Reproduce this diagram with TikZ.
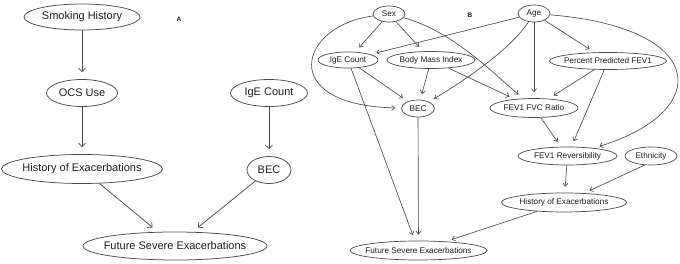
\documentclass[tikz,border=0pt]{standalone}
\usepackage{fontspec}
\setmainfont{Liberation Sans}
\usetikzlibrary{shapes.geometric,arrows.meta}
\definecolor{linec}{RGB}{75,75,75}
\definecolor{textc}{RGB}{30,30,30}
\begin{document}
\begin{tikzpicture}[x=1pt,y=-1pt,
 labA/.style={text=textc,font=\fontsize{11}{13}\selectfont,inner sep=0pt},
 labB/.style={text=textc,font=\fontsize{8.2}{10}\selectfont,inner sep=0pt},
 ellA/.style={ellipse,draw=linec,line width=0.75pt,inner sep=0pt,label={[labA]center:#1}},
 ellB/.style={ellipse,draw=linec,line width=0.7pt,inner sep=0pt,label={[labB]center:#1}},
 edgeA/.style={draw=linec,line width=0.75pt,-{Straight Barb[length=3.5pt,width=7pt]},shorten >=7pt},
 edgeB/.style={draw=linec,line width=0.65pt,-{Straight Barb[length=3pt,width=5pt]},shorten >=6pt},
 panel/.style={font=\fontsize{6.5}{8}\selectfont\bfseries,text=textc,inner sep=0pt}]
\useasboundingbox[fill=white] (0,0) rectangle (680,264);
% Panel A
\node[panel] (labelA) at (179,19) {A};
\node[ellA=Smoking History, minimum width=116, minimum height=26] (smoke) at (82,17) {};
\node[ellA=OCS Use, minimum width=71, minimum height=27] (ocs) at (82,93) {};
\node[ellA=IgE Count, minimum width=77, minimum height=27] (igeA) at (269,93) {};
\node[ellA=History of Exacerbations, minimum width=161, minimum height=29] (histA) at (82,169) {};
\node[ellA=BEC, minimum width=44, minimum height=27] (becA) at (269,170) {};
\node[ellA=Future Severe Exacerbations, minimum width=184, minimum height=28] (futA) at (175,246) {};
\draw[edgeA] (smoke) -- (ocs);
\draw[edgeA] (ocs) -- (histA);
\draw[edgeA] (igeA) -- (becA);
\draw[edgeA] (histA) -- (futA);
\draw[edgeA] (becA) -- (futA);
% Panel B
\node[panel] (labelB) at (470,15) {B};
\node[ellB=Sex, minimum width=32, minimum height=16] (sex) at (389,14) {};
\node[ellB=Age, minimum width=32, minimum height=17] (age) at (534,13.5) {};
\node[ellB=IgE Count, minimum width=60, minimum height=16] (igeB) at (348,60) {};
\node[ellB=Body Mass Index, minimum width=88, minimum height=17] (bmi) at (431,60) {};
\node[ellB=Percent Predicted FEV1, minimum width=117, minimum height=17] (ppf) at (608,61) {};
\node[ellB=BEC, minimum width=33, minimum height=17] (becB) at (418,108.5) {};
\node[ellB=FEV1 FVC Ratio, minimum width=88, minimum height=19] (fvc) at (534,108) {};
\node[ellB=FEV1 Reversibility, minimum width=99, minimum height=18] (rev) at (567.5,156) {};
\node[ellB=Ethnicity, minimum width=52, minimum height=18] (eth) at (651,156) {};
\node[ellB=History of Exacerbations, minimum width=125, minimum height=19] (hB) at (564,202.5) {};
\node[ellB=Future Severe Exacerbations, minimum width=137, minimum height=19] (futB) at (418.5,250.5) {};
\draw[edgeB] (sex) -- (igeB);
\draw[edgeB] (sex) -- (bmi);
\draw[edgeB] (sex) .. controls (450,30) and (490,70) .. (fvc);
\draw[edgeB] (sex) .. controls (300,25) and (275,105) .. (becB);
\draw[edgeB] (age) -- (igeB);
\draw[edgeB] (age) .. controls (510,50) and (465,80) .. (becB);
\draw[edgeB] (age) -- (fvc);
\draw[edgeB] (age) -- (ppf);
\draw[edgeB] (age) .. controls (710,28) and (712,112) .. (rev);
\draw[edgeB] (igeB) -- (becB);
\draw[edgeB] (igeB) -- (futB);
\draw[edgeB] (bmi) -- (becB);
\draw[edgeB] (bmi) -- (fvc);
\draw[edgeB] (ppf) -- (fvc);
\draw[edgeB] (ppf) -- (rev);
\draw[edgeB] (fvc) -- (rev);
\draw[edgeB] (becB) -- (futB);
\draw[edgeB] (rev) -- (hB);
\draw[edgeB] (eth.235) -- (hB.25);
\draw[edgeB] (hB) -- (futB);
\end{tikzpicture}
\end{document}
